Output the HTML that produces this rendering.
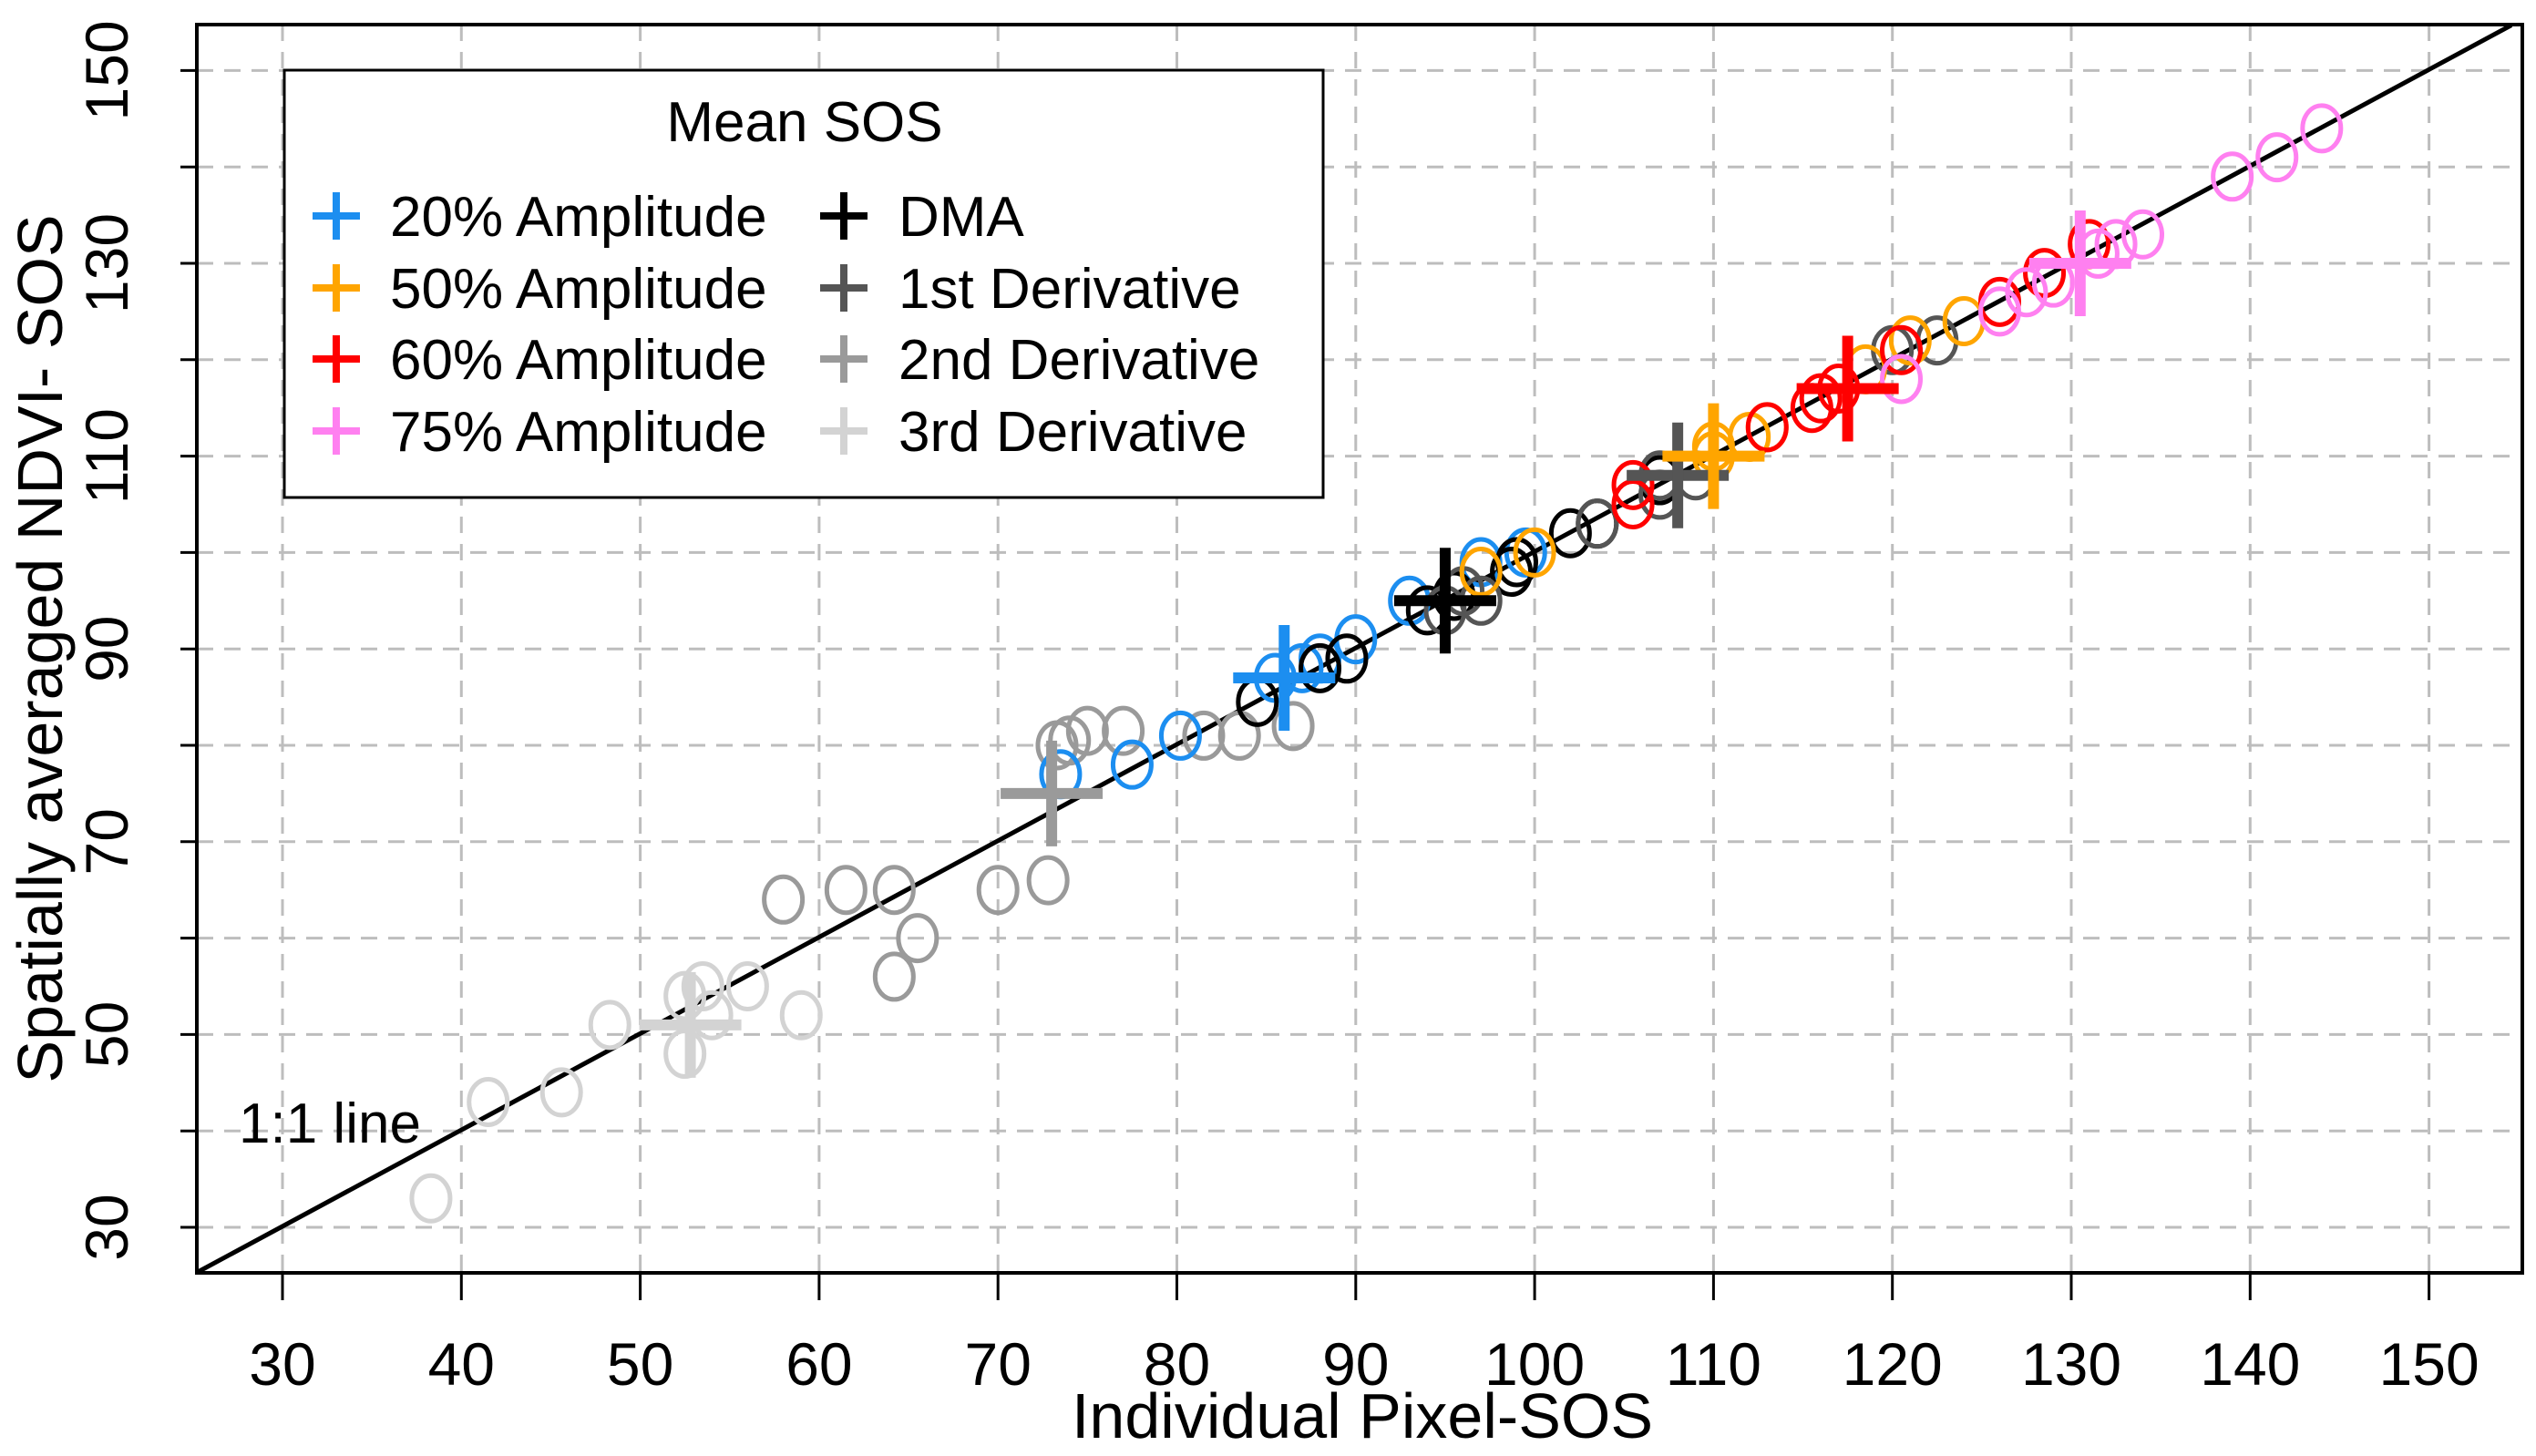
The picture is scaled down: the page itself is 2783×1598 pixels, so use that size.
<!DOCTYPE html>
<html><head><meta charset="utf-8"><style>
html,body{margin:0;padding:0;background:#fff}
svg{display:block;font-family:"Liberation Sans",Arial,sans-serif}
</style></head><body>
<svg id="chart" width="2783" height="1598" viewBox="0 0 2783 1598">
<g id="grid"></g>
<g id="axes"></g>
<g id="marks"></g>
<rect x="216" y="27" width="2552" height="1370" fill="none" stroke="#000" stroke-width="4"/>
<text x="262" y="1254" font-size="62">1:1 line</text>
<text x="1495" y="1578" font-size="70" text-anchor="middle">Individual Pixel-SOS</text>
<text transform="translate(68,712) rotate(-90)" font-size="70" text-anchor="middle">Spatially averaged NDVI- SOS</text>
<g>
<rect x="312" y="77" width="1140" height="469" fill="#fff" stroke="#000" stroke-width="3"/>
<text x="883" y="155" font-size="62" text-anchor="middle">Mean SOS</text>
<g id="legend-items"></g>
</g>
</svg>
<script>
const groupNames = ["3rd Derivative","2nd Derivative","20% Amplitude","DMA","1st Derivative","50% Amplitude","60% Amplitude","75% Amplitude"];
const groupColors = ["#d3d3d3","#9a9a9a","#1c8ef0","#000000","#555555","#ffa500","#ff0000","#ff80f0"];
const xs3 = [38.3,41.5,45.6,48.3,52.5,53.5,56,52.5,54,59];
const ys3 = [33,43,44,51,54,55,55,48,52,52];
const xs2 = [58,61.5,64.2,64.2,65.5,70,72.8,73.3,74,75,77,81.5,83.5,86.5];
const ys2 = [64,65,65,56,60,65,66,80,80.5,81.5,81.5,81,81,82];
const xs20 = [73.5,77.5,80.2,85.5,87,88,90,93,97,99.5];
const ys20 = [77,78,81,87,88,89,91,95,99,100];
const xsD = [84.5,88,89.5,94,95.5,98.7,99,102,103.5,107];
const ysD = [84.5,88,89,94,95.5,98,99,102,103,107.5];
const xs1 = [95,97,96,103.5,107,107,109,120,122.5];
const ys1 = [94,95,96,103,108,106,108,121,122];
const xs50 = [97,100,110,110,112,113,118.5,121,124];
const ys50 = [98,100,110,111,112,113,119,122,124];
const xs60 = [105.5,105.5,113,115.5,116,117,120.5,126,128.5,131];
const ys60 = [107,105,113,115,116,117,121,126,129,132];
const xs75 = [120.5,126,127.5,129,131.5,132.5,134,139,141.5,144];
const ys75 = [118,125,127,128,131,132,133,139,141,144];
const meanX = [52.8,73,86,95,108,110,117.5,130.5];
const meanY = [51,75,87,95,108,110,117,130];
const ticks = [30,40,50,60,70,80,90,100,110,120,130,140,150];
const yLabels = [30,50,70,90,110,130,150];

const NS="http://www.w3.org/2000/svg";
function X(v){return 310+(v-30)*19.63;}
function Y(v){return 1347-(v-30)*105.8/10;}
function mk(tag,attrs,parent){const e=document.createElementNS(NS,tag);for(const k in attrs)e.setAttribute(k,attrs[k]);parent.appendChild(e);return e;}
const grid=document.getElementById('grid'),axes=document.getElementById('axes'),marks=document.getElementById('marks');
ticks.forEach(t=>{
  let l=mk('line',{x1:X(t),x2:X(t),y1:27,y2:1397,stroke:'#bdbdbd','stroke-width':3,'stroke-dasharray':'18 12'},grid);
  
  
  l=mk('line',{x1:216,x2:2768,y1:Y(t),y2:Y(t),stroke:'#bdbdbd','stroke-width':3,'stroke-dasharray':'18 12'},grid);
  
  
  let tk=mk('line',{x1:X(t),x2:X(t),y1:1397,y2:1427,stroke:'#000','stroke-width':3},axes);
  
  
  let tl=mk('text',{x:X(t),y:1520,'font-size':66,'text-anchor':'middle'},axes);
  tl.textContent=t;
  
  
  tk=mk('line',{x1:198,x2:216,y1:Y(t),y2:Y(t),stroke:'#000','stroke-width':3},axes);
  
  
});
yLabels.forEach(t=>{
  const tl=mk('text',{transform:`translate(140,${Y(t)}) rotate(-90)`,'font-size':66,'text-anchor':'middle'},axes);
  tl.textContent=t;
  
  
});
const ln=mk('line',{x1:X(25.2),y1:Y(25.3),x2:X(154.6),y2:Y(154.7),stroke:'#000','stroke-width':5},marks);


const sets=[[xs3,ys3],[xs2,ys2],[xs20,ys20],[xsD,ysD],[xs1,ys1],[xs50,ys50],[xs60,ys60],[xs75,ys75]];
sets.forEach((s,g)=>{
  s[0].forEach((x,i)=>{
    const c=mk('ellipse',{cx:X(x),cy:Y(s[1][i]),rx:21,ry:25,fill:'none',stroke:groupColors[g],'stroke-width':5},marks);
    
    
  });
});
function plus(cx,cy,h,v,w,col,parent,name){
  const g=mk('g',{},parent);
  
  
  mk('line',{x1:cx-h,x2:cx+h,y1:cy,y2:cy,stroke:col,'stroke-width':w},g);
  mk('line',{x1:cx,x2:cx,y1:cy-v,y2:cy+v,stroke:col,'stroke-width':w},g);
}
meanX.forEach((x,g)=>{
  plus(X(x),Y(meanY[g]),56,58,12,groupColors[g],marks,'mean-'+groupNames[g].toLowerCase().replace(/[^a-z0-9]+/g,'-'));
});
const leg=document.getElementById('legend-items');
const legRows=[[2,0],[5,1],[6,2],[7,3],[3,0],[4,1],[1,2],[0,3]];
const legY=[237,316,394,473];
legRows.forEach(([g,r],i)=>{
  const px=i<4?369:926, tx=i<4?428:986;
  plus(px,legY[r],26,26,8,groupColors[g],leg,'legend-marker');
  const t=mk('text',{x:tx,y:legY[r]+22,'font-size':62},leg);
  t.textContent=groupNames[g];
  
  
});
</script>
</body></html>
